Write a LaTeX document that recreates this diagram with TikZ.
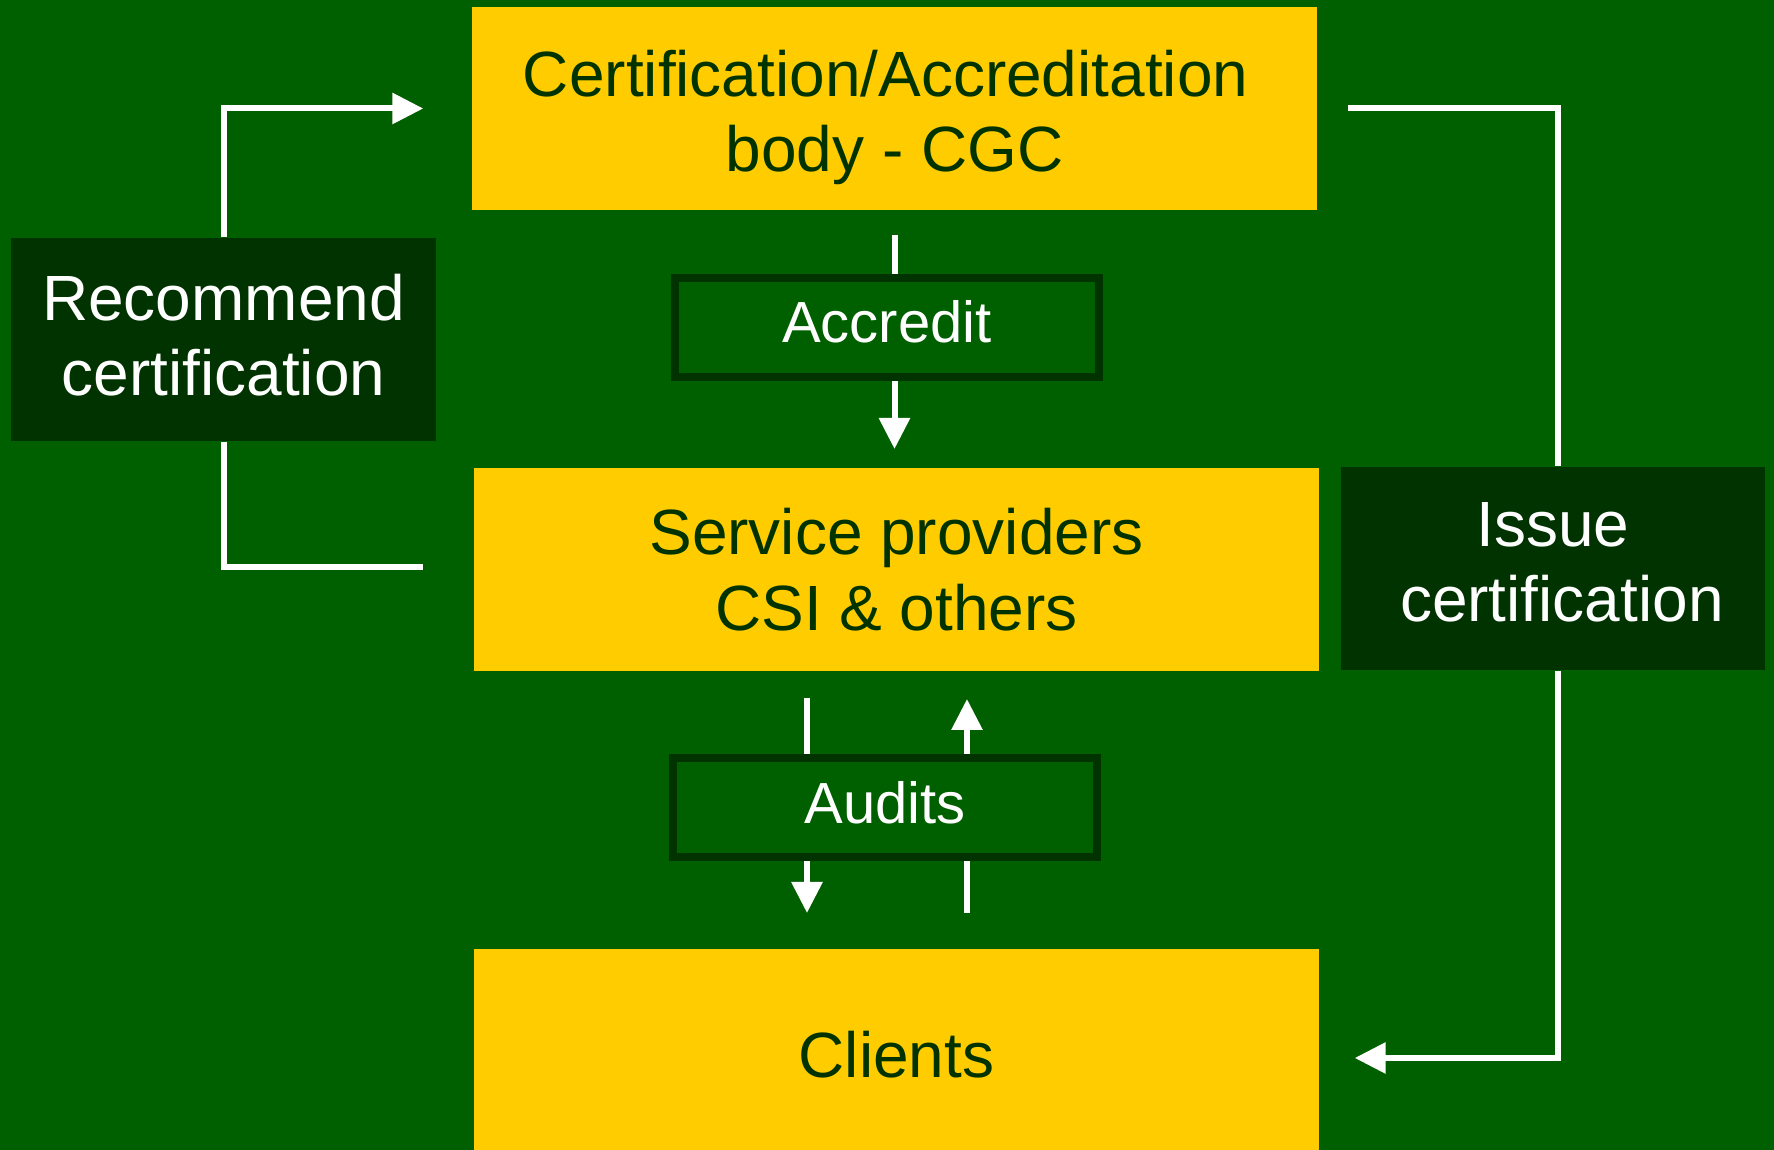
\documentclass[tikz,border=0pt]{standalone}
\usepackage{fontspec}
\setmainfont{Liberation Sans}
\usetikzlibrary{arrows.meta}
\definecolor{bggreen}{HTML}{006000}
\definecolor{darkgreen}{HTML}{003300}
\definecolor{gold}{HTML}{FFCC00}
\tikzset{
    yellowbox/.style={rectangle, fill=gold, text=darkgreen, minimum width=8.45cm, minimum height=2.03cm, align=center, inner sep=0pt, font=\fontsize{18.2}{21.6}\selectfont},
    darkbox/.style={rectangle, fill=darkgreen, text=white, minimum width=4.25cm, minimum height=2.03cm, align=center, inner sep=0pt, font=\fontsize{18.2}{21.6}\selectfont},
    labelbox/.style={rectangle, draw=darkgreen, line width=0.8mm, text=white, minimum width=4.24cm, minimum height=0.99cm, inner sep=0pt, font=\fontsize{16.5}{19.8}\selectfont},
    link/.style={draw=white, line width=0.6mm, line join=miter},
    arr/.style={link, -{Triangle[length=3.1mm, width=3mm]}},
}
\begin{document}
\begin{tikzpicture}
            \useasboundingbox (0,0) rectangle (17.74,-11.5);
            \fill[bggreen] (0,0) rectangle (17.74,-11.5);

            \node[yellowbox, text height=1.40cm, text depth=0.13cm] (body) at (8.945,-1.085) {Certification/Accreditation\kern0.278em\\body - CGC};
            \node[labelbox, text height=0.41cm, text depth=0.1cm] (accredit) at (8.87,-3.275) {Accredit};
            \node[yellowbox] (service) at (8.965,-5.70) {Service providers\\CSI \& others};
            \node[labelbox, text height=0.43cm, text depth=0.1cm] (audits) at (8.85,-8.075) {Audits};
            \node[yellowbox, minimum height=2.01cm, text height=0.66cm, text depth=0.1cm] (clients) at (8.965,-10.495) {Clients};

            \node[darkbox, text height=1.13cm, text depth=0cm] (recommend) at (2.235,-3.395) {Recommend\\certification};
            \node[darkbox, minimum width=4.24cm, text height=1.07cm, text depth=0cm] (issue) at (15.53,-5.685) {Issue\\\kern0.278em certification};

            % left loop
            \draw[arr] (recommend.north) |- ([xshift=-4.8mm]body.west);
            \draw[link] (recommend.south) |- ([xshift=-5mm,yshift=0.3mm]service.west);

            % right loop
            \draw[link] ([xshift=3mm]body.east) -| ([xshift=0.5mm]issue.north);
            \draw[arr] ([xshift=0.5mm]issue.south) |- ([xshift=3.5mm,yshift=-0.85mm]clients.east);

            % accredit
            \coordinate (accreditEnd) at (8.945,-4.49);
            \draw[link] ([yshift=-2.4mm]body.south) -- (body.south |- accredit.north);
            \draw[arr] (body.south |- accredit.south) -- (accreditEnd);

            % audits
            \coordinate (auditsTopL) at (8.07,-6.98);
            \coordinate (auditsBotL) at (8.07,-9.13);
            \coordinate (auditsTopR) at (9.67,-6.99);
            \coordinate (auditsBotR) at (9.67,-9.13);
            \draw[link] (auditsTopL) -- (auditsTopL |- audits.north);
            \draw[arr] (auditsTopL |- audits.south) -- (auditsBotL);
            \draw[arr] (auditsTopR |- audits.north) -- (auditsTopR);
            \draw[link] (auditsTopR |- audits.south) -- (auditsBotR);

\end{tikzpicture}
\end{document}
